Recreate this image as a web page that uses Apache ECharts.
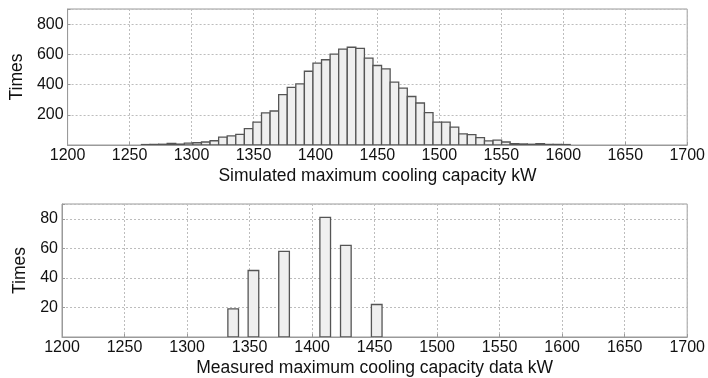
<!DOCTYPE html>
<html>
<head>
<meta charset="utf-8">
<script src="https://cdn.jsdelivr.net/npm/echarts@6/dist/echarts.min.js"></script>
<style>
html,body{margin:0;padding:0;background:#fff;}
#chart{width:708px;height:378px;}
</style>
</head>
<body>
<div id="chart"></div>
<script>
// ---- Data ----
const xTicks = [1200, 1250, 1300, 1350, 1400, 1450, 1500, 1550, 1600, 1650, 1700];
const topYTicks = [200, 400, 600, 800];
const bottomYTicks = [20, 40, 60, 80];

// Simulated histogram: 50 equal bins
const simBinStart = 1259.6;
const simBinWidth = 6.92;
const simCounts = [3, 4, 5, 10, 6, 12, 15, 20, 28, 52, 61, 70,
  108, 152, 212, 225, 334, 382, 405, 488, 542, 564, 601, 635, 647,
  640, 575, 526, 504, 416, 377, 321, 278, 214, 152, 152, 118, 73, 68, 49,
  27, 32, 20, 9, 7, 5, 9, 4, 4, 3];

// Measured histogram
const measCenters = [1336.9, 1353.1, 1377.6, 1410.5, 1427.0, 1451.7];
const measCounts = [19, 45, 58, 81, 62, 22];
const measBinWidth = 8.5;

const topXName = 'Simulated maximum cooling capacity kW';
const bottomXName = 'Measured maximum cooling capacity data kW';
const yName = 'Times';

// ---- Build ----
const simData = simCounts.map((c, i) => [simBinStart + i * simBinWidth, simBinStart + (i + 1) * simBinWidth, c]);
const measData = measCenters.map((c, i) => [c - measBinWidth / 2, c + measBinWidth / 2, measCounts[i]]);

const FONT = 'Arial, "Liberation Sans", sans-serif';
const tickTxt = {color: '#111', fontFamily: FONT, fontSize: 16};
const nameTxt = {color: '#111', fontFamily: FONT, fontSize: 17.5};

function renderBar(params, api) {
  const p0 = api.coord([api.value(0), api.value(2)]);
  const p1 = api.coord([api.value(1), 0]);
  return {
    type: 'rect',
    shape: {x: p0[0], y: p0[1], width: p1[0] - p0[0], height: p1[1] - p0[1]},
    style: {fill: '#efefef', stroke: '#555', lineWidth: 1.3}
  };
}

function xAxis(gridIndex, name) {
  return {
    type: 'value', gridIndex, min: xTicks[0], max: xTicks[xTicks.length - 1], interval: 50,
    name, nameLocation: 'middle', nameGap: 22,
    nameTextStyle: Object.assign({}, nameTxt),
    axisLine: {show: true, lineStyle: {color: '#9a9a9a', width: 1}},
    axisTick: {show: true, inside: true, length: 3, lineStyle: {color: '#9a9a9a'}},
    axisLabel: Object.assign({margin: 3, formatter: v => xTicks.includes(v) ? String(v) : ''}, tickTxt),
    splitLine: {show: true, lineStyle: {color: '#bdbdbd', type: [2, 2], width: 1}}
  };
}
function yAxis(gridIndex, max, ticks, nameGap) {
  return {
    type: 'value', gridIndex, min: 0, max, interval: ticks[0],
    name: yName, nameLocation: 'middle', nameGap,
    nameTextStyle: Object.assign({}, nameTxt),
    axisLine: {show: true, lineStyle: {color: '#9a9a9a', width: 1}},
    axisTick: {show: true, inside: true, length: 3, lineStyle: {color: '#9a9a9a'}},
    axisLabel: Object.assign({margin: 4, formatter: v => ticks.includes(v) ? String(v) : ''}, tickTxt),
    splitLine: {show: true, lineStyle: {color: '#bdbdbd', type: [2, 2], width: 1}}
  };
}

const chart = echarts.init(document.getElementById('chart'), null, {renderer: 'canvas'});
chart.setOption({
  backgroundColor: '#fff',
  animation: false,
  grid: [
    {left: 62, right: 19, top: 9, height: 136, show: true, borderColor: '#9a9a9a', borderWidth: 1, containLabel: false},
    {left: 62, right: 19, top: 204, height: 136.5, show: true, borderColor: '#9a9a9a', borderWidth: 1, containLabel: false}
  ],
  xAxis: [xAxis(0, topXName), xAxis(1, bottomXName)],
  yAxis: [yAxis(0, 900, topYTicks, 41), yAxis(1, 90, bottomYTicks, 27)],
  series: [
    {type: 'custom', xAxisIndex: 0, yAxisIndex: 0, renderItem: renderBar, data: simData, encode: {x: [0, 1], y: 2}, clip: true},
    {type: 'custom', xAxisIndex: 1, yAxisIndex: 1, renderItem: renderBar, data: measData, encode: {x: [0, 1], y: 2}, clip: true}
  ]
});
</script>
</body>
</html>
